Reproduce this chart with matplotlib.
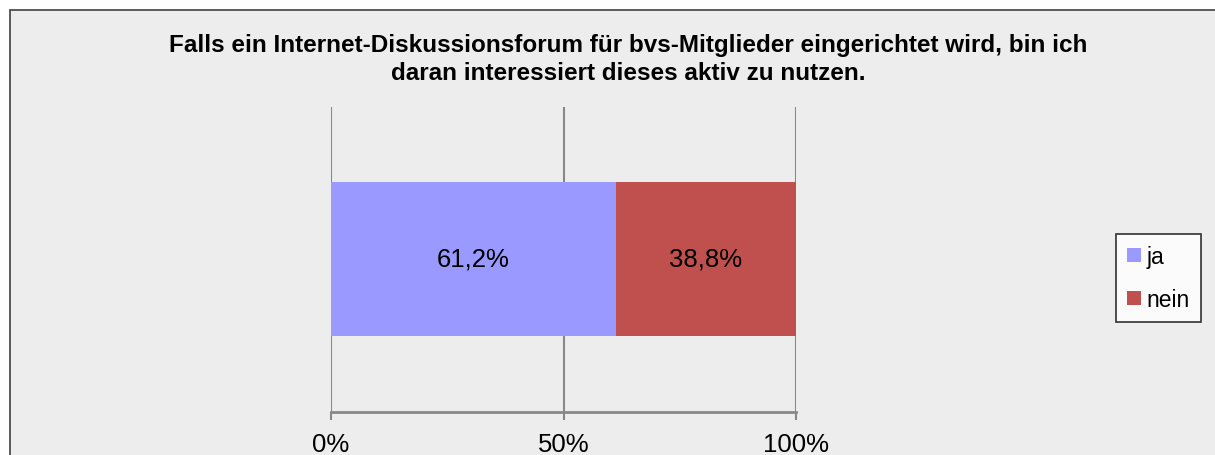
import matplotlib.pyplot as plt
from matplotlib.patches import Rectangle

# data
categories = ["ja", "nein"]
values = [61.2, 38.8]
colors = ["#9999FF", "#C0504D"]
tick_values = [0, 50, 100]
tick_labels = ["0%", "50%", "100%"]
title = ("Falls ein Internet-Diskussionsforum für bvs-Mitglieder eingerichtet wird, bin ich\n"
         "daran interessiert dieses aktiv zu nutzen.")

plt.rcParams['font.family'] = ['Liberation Sans', 'DejaVu Sans']

W, H = 1215, 456
fig = plt.figure(figsize=(W / 100, H / 100), dpi=100)
fig.patch.set_facecolor("white")

# grey chart area with a border on the left and top (the rest is cut off)
bg = Rectangle((10.5 / W, -0.05), 1.1, (H - 10.5) / H + 0.05,
               transform=fig.transFigure, facecolor="#EDEDED",
               edgecolor="#404040", linewidth=1.2, zorder=-5)
fig.patches.append(bg)

# plot area: x 331..796 px, y 108..413 px
ax = fig.add_axes([331 / W, (H - 413) / H, 465 / W, 305 / H])
ax.set_facecolor("none")

left = 0
for cat, val, col in zip(categories, values, colors):
    ax.barh([0.502], [val], left=left, height=0.505, color=col, label=cat, zorder=2)
    ax.text(left + val / 2, 0.502, f"{val:.1f}%".replace(".", ","),
            ha="center", va="center", fontsize=18.5, color="black", zorder=3)
    left += val

ax.set_xlim(0, 100)
ax.set_ylim(0, 1)
ax.set_xticks(tick_values)
ax.set_xticklabels(tick_labels, fontsize=18.5)
ax.set_yticks([])
ax.grid(axis="x", color="#888888", linewidth=1.5, zorder=1)
for side in ["left", "right", "top"]:
    ax.spines[side].set_visible(False)
ax.spines["bottom"].set_color("#888888")
ax.spines["bottom"].set_linewidth(2)
ax.tick_params(axis="x", direction="out", length=5.5, width=1.5, color="#888888", pad=9)

fig.text(628 / W, 1 - 34 / H, title, ha="center", va="top", fontsize=17.5,
         fontweight="bold", linespacing=1.3)

leg = fig.legend(loc="upper left", bbox_to_anchor=(1116 / W, 1 - 235 / H),
                 fontsize=16.5, frameon=True, fancybox=False, borderpad=0.5,
                 labelspacing=0.85, handlelength=0.57, handleheight=0.57,
                 handletextpad=0.25, borderaxespad=0)
leg.get_frame().set_edgecolor("black")
leg.get_frame().set_facecolor("white")
leg.get_frame().set_linewidth(1.2)

fig.savefig("out.png", dpi=100, facecolor="white")
